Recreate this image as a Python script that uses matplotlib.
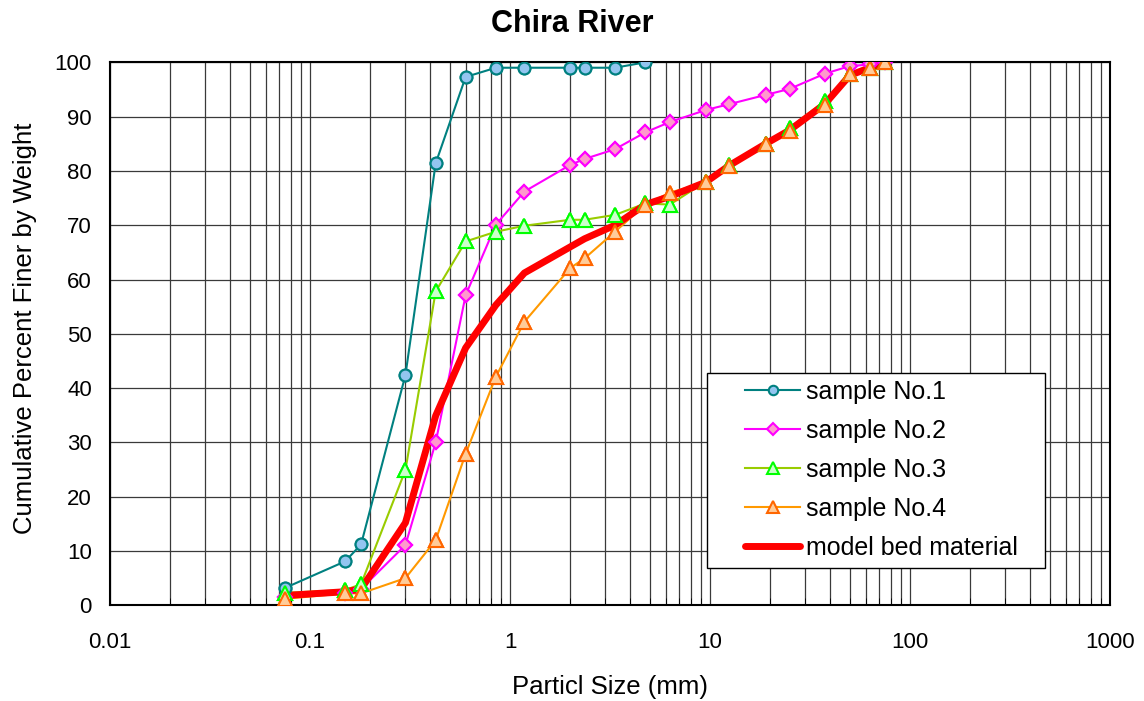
import matplotlib
matplotlib.use("Agg")
import matplotlib.pyplot as plt
from matplotlib.patches import Rectangle
from matplotlib.ticker import LogLocator, FixedLocator, NullFormatter, FuncFormatter

plt.rcParams['font.family'] = ['Liberation Sans', 'DejaVu Sans']

sizes = [0.075, 0.15, 0.18, 0.3, 0.425, 0.6, 0.85, 1.18, 2, 2.36, 3.35, 4.75,
         6.3, 9.5, 12.5, 19, 25, 37.5, 50, 63, 75]

sample1 = [3.2, 8.1, 11.2, 42.4, 81.4, 97.3, 99.0, 99.0, 99.0, 99.0, 99.0, 100]
sample2 = [1.5, 2.3, 3.0, 11.1, 30.0, 57.1, 70.1, 76.2, 81.1, 82.2, 84.0, 87.1,
           89.0, 91.2, 92.3, 94.0, 95.1, 97.9, 99.3, 99.6, 100]
sample3 = [2.3, 2.8, 3.9, 24.9, 57.8, 67.0, 68.8, 69.9, 71.0, 71.0, 71.9, 74.0,
           73.8, 78.0, 81.0, 85.0, 87.9, 92.9, 97.8, 98.9, 100]
sample4 = [1.2, 2.2, 2.2, 5.0, 12.0, 27.9, 42.1, 52.2, 62.1, 63.9, 68.8, 73.8,
           76.0, 77.9, 80.9, 85.0, 87.4, 92.1, 97.8, 98.9, 100]
model = [1.8, 2.5, 3.0, 15.2, 34.9, 47.4, 55.3, 61.2, 66.0, 67.5, 70.0, 73.8,
         75.3, 77.9, 81.0, 85.0, 87.5, 92.3, 97.6, 99.0, 100]

labels = ['sample No.1', 'sample No.2', 'sample No.3', 'sample No.4', 'model bed material']
x_ticks = [0.01, 0.1, 1, 10, 100, 1000]
x_ticklabels = ['0.01', '0.1', '1', '10', '100', '1000']
y_ticks = list(range(0, 101, 10))

fig = plt.figure(figsize=(11.44, 7.01), dpi=100)
ax = fig.add_axes([110/1144, 1-605.3/701, 1000/1144, 543/701])

styles = [
    dict(color='#008080', marker='o', mfc='#93C5F0', mec='#008080', ms=8.5, mew=1.5),
    dict(color='#FF00FF', marker='D', mfc='#FF99CC', mec='#FF00FF', ms=7.5, mew=1.5),
    dict(color='#99CC00', marker='^', mfc='#CCFFCC', mec='#00FF00', ms=10.5, mew=1.5),
    dict(color='#FF9900', marker='^', mfc='#FFCC99', mec='#FF6600', ms=10.5, mew=1.5),
]
series = [sample1, sample2, sample3, sample4]

handles = []
for i, (yv, st) in enumerate(zip(series, styles)):
    xv = sizes[:len(yv)]
    h, = ax.plot(xv, yv, lw=1.5, label=labels[i], zorder=2 + 0.1 * i, **st)
    handles.append(h)
    ax.plot(xv, yv, ls='none', zorder=4 + 0.1 * i, **st)

hm, = ax.plot(sizes, model, color='#FF0000', lw=5, label=labels[4], zorder=3,
              solid_capstyle='round')
handles.append(hm)

ax.set_xscale('log')
ax.set_xlim(0.01, 1000)
ax.set_ylim(0, 100)
ax.xaxis.set_major_locator(FixedLocator(x_ticks))
ax.xaxis.set_major_formatter(FuncFormatter(lambda v, p: x_ticklabels[x_ticks.index(v)] if v in x_ticks else ''))
ax.xaxis.set_minor_locator(LogLocator(base=10, subs=range(2, 10), numticks=20))
ax.xaxis.set_minor_formatter(NullFormatter())
ax.set_yticks(y_ticks)

ax.grid(True, which='both', axis='x', color='#3a3a3a', lw=0.9)
ax.grid(True, which='major', axis='y', color='#3a3a3a', lw=0.9)
ax.set_axisbelow(True)

ax.tick_params(axis='x', which='major', direction='in', length=0, pad=19, labelsize=16)
ax.tick_params(axis='x', which='minor', direction='in', length=5)
ax.tick_params(axis='y', which='major', direction='in', length=0, pad=13, labelsize=16)

for s in ax.spines.values():
    s.set_color('black')
    s.set_linewidth(1.5)

ax.set_xlabel('Particl Size (mm)', fontsize=18.5)
ax.xaxis.set_label_coords(0.5, (605.3 - 687) / 543)
ax.xaxis.label.set_verticalalignment('center')
ax.set_ylabel('Cumulative Percent Finer by Weight', fontsize=18.5)
ax.yaxis.set_label_coords((25 - 110) / 1000, 0.51)
ax.yaxis.label.set_verticalalignment('center')
fig.text(0.5, 1 - 24 / 701, 'Chira River', fontsize=22, fontweight='bold',
         ha='center', va='center')

# legend frame
frame = Rectangle((0.597, (605.3 - 568) / 543), 0.338, 195 / 543,
                  transform=ax.transAxes, facecolor='white', edgecolor='black',
                  lw=1.0, zorder=9)
ax.add_patch(frame)

leg = ax.legend(handles=handles, loc='upper left',
                bbox_to_anchor=((735 - 110) / 1000, (605.3 - 370) / 543),
                fontsize=18, frameon=False, borderpad=0.4, labelspacing=0.6,
                handlelength=2.2, handletextpad=0.25, borderaxespad=0,
                markerscale=0.8)
leg.set_zorder(10)

fig.savefig('out.png', dpi=100)
